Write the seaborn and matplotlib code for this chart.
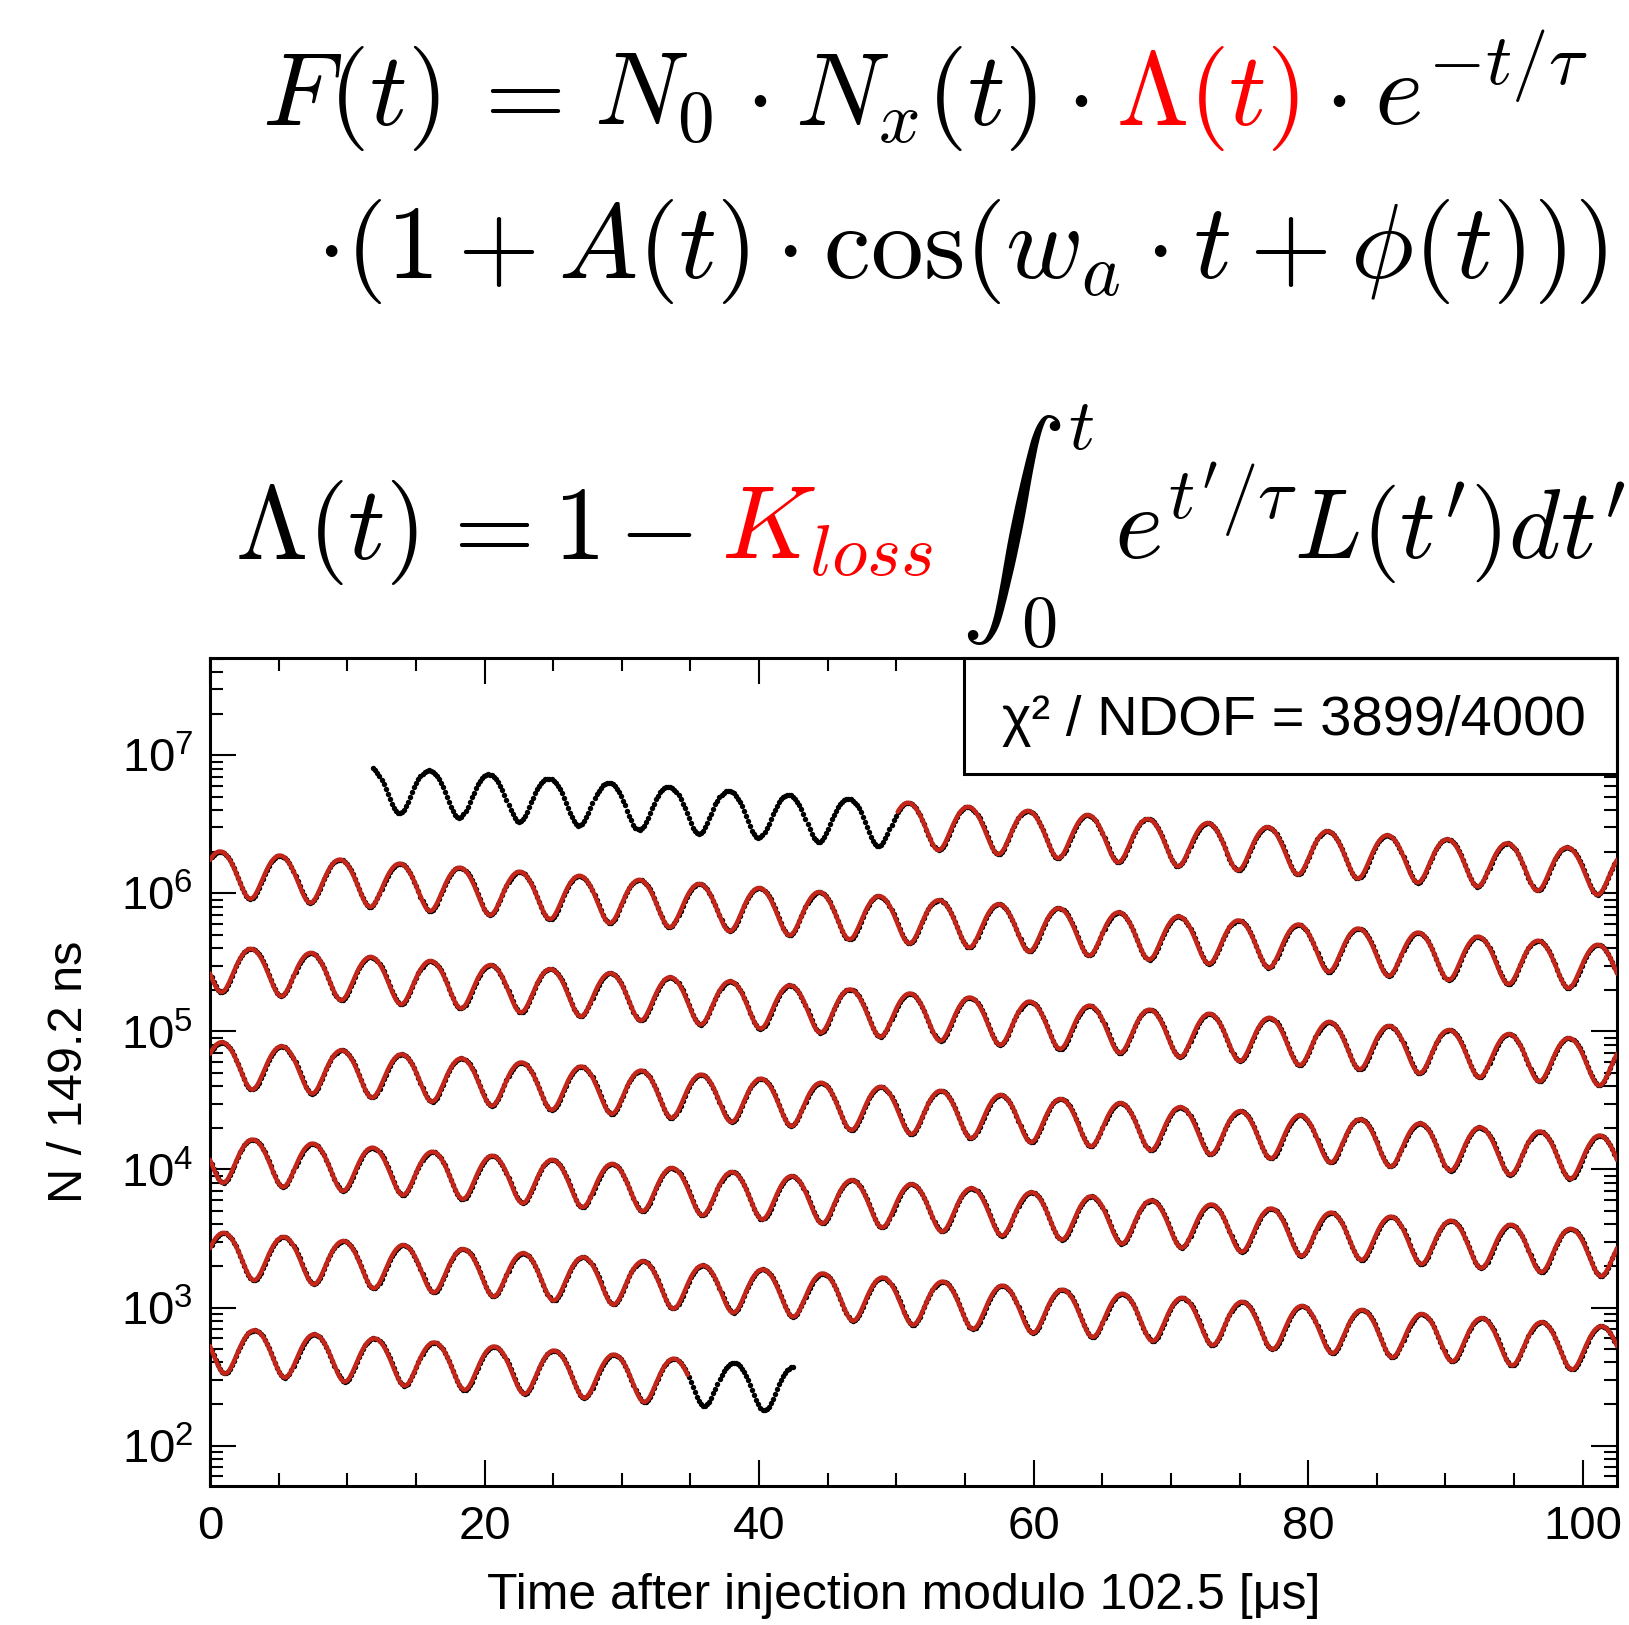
import numpy as np
import pandas as pd
import matplotlib
matplotlib.use("Agg")
import matplotlib.pyplot as plt
import seaborn as sns
from matplotlib.ticker import FixedLocator, LogLocator, MultipleLocator, NullFormatter, FixedFormatter
from matplotlib.patches import Rectangle

# ---------------- values ----------------
wrap_period = 102.5            # x axis: time after injection modulo 102.5 us
bin_width = 0.1492             # 149.2 ns bins
data_start = 11.9              # first data bin [us]
data_end = 657.6               # last data bin [us]
fit_start = 50.1               # red fit range [us]
fit_end = 649.8
N_at_ref = 1.476e6             # mean counts per bin at t_ref
t_ref = 103.25
tau = 64.5                     # lifetime [us]
asym = 0.36                    # wiggle amplitude A
period_a = 4.3645              # g-2 period [us]
t_peak = 103.25                # time of a wiggle maximum [us]

x_ticks = [0, 20, 40, 60, 80, 100]
x_tick_labels = ["0", "20", "40", "60", "80", "100"]
y_ticks = [1e2, 1e3, 1e4, 1e5, 1e6, 1e7]
y_tick_labels = [r"$\mathregular{10^{2}}$", r"$\mathregular{10^{3}}$", r"$\mathregular{10^{4}}$",
                 r"$\mathregular{10^{5}}$", r"$\mathregular{10^{6}}$", r"$\mathregular{10^{7}}$"]
x_range = (0, 102.5)
y_range = (51, 5.06e7)
chi2_text = "χ² / NDOF = 3899/4000"
x_label = "Time after injection modulo 102.5 [μs]"
y_label = "N / 149.2 ns"


def F(t):
    """fit function shown in the chart: N0 e^{-t/tau} (1 + A cos(w_a t + phi))"""
    return N_at_ref * np.exp(-(t - t_ref) / tau) * (1 + asym * np.cos(2 * np.pi * (t - t_peak) / period_a))


# data points (bins)
t_data = np.arange(data_start, data_end, bin_width)
row_data = np.floor(t_data / wrap_period).astype(int)
df_data = pd.DataFrame({"t_mod": t_data - row_data * wrap_period, "N": F(t_data), "row": row_data})

# fit curve, one line per wrapped row
fit_parts = []
for r in range(int(np.floor(fit_start / wrap_period)), int(np.floor(fit_end / wrap_period)) + 1):
    a = max(fit_start, r * wrap_period)
    b = min(fit_end, (r + 1) * wrap_period)
    tt = np.linspace(a, b, 1400)
    fit_parts.append(pd.DataFrame({"t_mod": tt - r * wrap_period, "N": F(tt), "row": r}))
df_fit = pd.concat(fit_parts, ignore_index=True)

# ---------------- figure ----------------
sns.set_style("ticks")
plt.rcParams["font.family"] = ["Liberation Sans", "DejaVu Sans"]
plt.rcParams["mathtext.fontset"] = "custom"
plt.rcParams["mathtext.rm"] = "Liberation Sans"
plt.rcParams["mathtext.it"] = "Liberation Sans:italic"
plt.rcParams["mathtext.bf"] = "Liberation Sans:bold"

W, H = 1629, 1625
fig = plt.figure(figsize=(W / 100, H / 100), dpi=100)
ax_l, ax_r, ax_t, ax_b = 210, 1617, 658, 1486
ax = fig.add_axes([ax_l / W, 1 - ax_b / H, (ax_r - ax_l) / W, (ax_b - ax_t) / H])

sns.scatterplot(data=df_data, x="t_mod", y="N", color="black", s=15, marker="o",
                linewidth=0, ax=ax, zorder=2, legend=False)
sns.lineplot(data=df_fit, x="t_mod", y="N", units="row", estimator=None, color="#c4261a",
             lw=3.2, ax=ax, zorder=3, legend=False)

ax.set_yscale("log")
ax.set_xlim(*x_range)
ax.set_ylim(*y_range)
ax.xaxis.set_major_locator(FixedLocator(x_ticks))
ax.xaxis.set_major_formatter(FixedFormatter(x_tick_labels))
ax.xaxis.set_minor_locator(MultipleLocator(5))
ax.yaxis.set_major_locator(FixedLocator(y_ticks))
ax.yaxis.set_major_formatter(FixedFormatter(y_tick_labels))
ax.yaxis.set_minor_locator(LogLocator(base=10, subs=np.arange(2, 10)))
ax.yaxis.set_minor_formatter(NullFormatter())
for lab in ax.get_yticklabels():
    lab.set_math_fontfamily("custom")

ax.tick_params(which="both", direction="in", top=True, right=True, width=1.5, color="black",
               labelsize=34, labelcolor="black")
ax.tick_params(which="major", length=19)
ax.tick_params(which="minor", length=9.5)
ax.tick_params(axis="x", pad=14)
ax.tick_params(axis="y", pad=12)
for sp in ax.spines.values():
    sp.set_linewidth(2.2)
    sp.set_color("black")
    sp.set_visible(True)

ax.set_xlabel(x_label, fontsize=36, labelpad=17, color="black")
ax.set_ylabel(y_label, fontsize=35, labelpad=21, color="black")
ax.xaxis.label.set_x((904 - ax_l) / (ax_r - ax_l))

# chi2 box
bx0 = (964 - ax_l) / (ax_r - ax_l)
by0 = (ax_b - 774) / (ax_b - ax_t)
ax.add_patch(Rectangle((bx0, by0), 1 - bx0, 1 - by0, transform=ax.transAxes, facecolor="white",
                       edgecolor="black", lw=2.2, zorder=2.4, clip_on=False))
ax.text((bx0 + 1) / 2 + 3 / (ax_r - ax_l), (by0 + 1) / 2 - 5 / (ax_b - ax_t), chi2_text,
        transform=ax.transAxes, ha="center", va="center", fontsize=40.4, color="black", zorder=2.6)

# ---------------- equations ----------------
EQ = 75


def put(s, x, ybase, color="black", size=EQ, ha="left"):
    fig.text(x / W, 1 - ybase / H, s, color=color, fontsize=size, ha=ha, va="baseline",
             math_fontfamily="cm")


# line 1: F(t) = N0 . Nx(t) . Lambda(t) . e^{-t/tau}
y1 = 125
put(r"$F(t)$", 262, y1)
put(r"$=$", 514, y1, ha="center")
put(r"$N_0$", 594, y1)
put(r"$\cdot$", 756, y1, ha="center")
put(r"$N_x(t)$", 795, y1)
put(r"$\cdot$", 1077, y1, ha="center")
put(r"$\Lambda(t)$", 1116, y1, color="red")
put(r"$\cdot$", 1335, y1, ha="center")
put(r"$e^{-t/\tau}$", 1374, y1)

# line 2
put(r"$\cdot(1 + A(t) \cdot \cos(w_a \cdot t + \phi(t)))$", 316, 278, size=76)

# line 3: Lambda(t) = 1 - K_loss int_0^t e^{t'/tau} L(t') dt'
y3 = 559
put(r"$\Lambda(t)$", 235, y3)
put(r"$=$", 483, y3, ha="center")
put(r"$1$", 553, y3)
put(r"$-$", 655, y3, ha="center")
put(r"$K_{loss}$", 721, y3, color="red")
put(r"$\int$", 961, 565)
put(r"$t$", 1068, 449, size=52)
put(r"$0$", 1021, 646, size=52)
put(r"$e^{t'/\tau}$", 1114, y3)
put(r"$L(t')dt'$", 1626, y3, ha="right", size=71)

fig.savefig("out.png", dpi=100, facecolor="white")
